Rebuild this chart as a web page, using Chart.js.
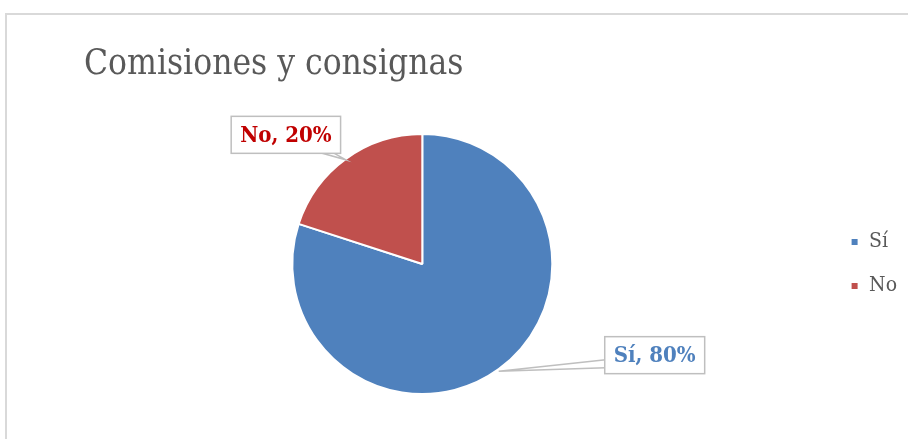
<!DOCTYPE html>
<html>
<head>
<meta charset="utf-8">
<script src="https://cdn.jsdelivr.net/npm/chart.js@4.4.1/dist/chart.umd.min.js"></script>
<style>
    html, body { margin: 0; padding: 0; background: #fff; overflow: hidden; }
    #wrap { position: relative; width: 908px; height: 439px; }
    #frame { position: absolute; left: 5px; top: 13px; width: 1000px; height: 1000px;
             border: 2px solid #d9d9d9; box-sizing: border-box; }
    #chart { position: absolute; left: 0; top: 0; }
</style>
</head>
<body>
<div id="wrap">
    <div id="frame"></div>
    <canvas id="chart" width="908" height="439"></canvas>
</div>
<script>
const categories = ['Sí', 'No'];
const shares = [80, 20];
const sliceColors = ['#4f81bd', '#c0504d'];
const labelColors = ['#4f81bd', '#c00000'];
const chartTitle = 'Comisiones y consignas';

// where each callout box sits relative to the slice edge (mid angle)
const calloutOffsets = [[156, -14], [-60, -24]];
const serif = "'DejaVu Serif Condensed', 'DejaVu Serif', serif";

const titlePlugin = {
    id: 'titleText',
    afterDraw(chart) {
        const ctx = chart.ctx;
        ctx.save();
        ctx.font = `35px ${serif}`;
        ctx.fillStyle = '#595959';
        ctx.textBaseline = 'alphabetic';
        ctx.fillText(chartTitle, 84, 74);
        ctx.restore();
    }
};

const calloutPlugin = {
    id: 'callouts',
    afterDatasetsDraw(chart) {
        const ctx = chart.ctx;
        const arcs = chart.getDatasetMeta(0).data;
        ctx.save();
        ctx.font = `bold 22px ${serif}`;
        ctx.textAlign = 'center';
        ctx.textBaseline = 'middle';
        arcs.forEach((arc, i) => {
            const mid = (arc.startAngle + arc.endAngle) / 2;
            const ax = arc.x + Math.cos(mid) * arc.outerRadius;
            const ay = arc.y + Math.sin(mid) * arc.outerRadius;
            const text = `${categories[i]}, ${shares[i]}%`;
            const w = ctx.measureText(text).width + 18;
            const h = 37;
            const cx = ax + calloutOffsets[i][0];
            const cy = ay + calloutOffsets[i][1];
            const bx = cx - w / 2, by = cy - h / 2;

            // wedge from box to the slice
            ctx.beginPath();
            if (cx > ax) {
                ctx.moveTo(bx + 1, by + h - 14);
                ctx.lineTo(ax, ay + 2);
                ctx.lineTo(bx + 1, by + h - 6);
            } else {
                ctx.moveTo(bx + w - 22, by + h - 1);
                ctx.lineTo(ax, ay + 1);
                ctx.lineTo(bx + w - 8, by + h - 1);
            }
            ctx.fillStyle = '#fff';
            ctx.strokeStyle = '#bfbfbf';
            ctx.lineWidth = 1.5;
            ctx.fill();
            ctx.stroke();

            ctx.fillRect(bx, by, w, h);
            ctx.strokeRect(bx, by, w, h);

            ctx.fillStyle = labelColors[i];
            ctx.fillText(text, cx, cy + 1);
        });
        ctx.restore();
    }
};

const ctx = document.getElementById('chart').getContext('2d');

new Chart(ctx, {
    type: 'pie',
    data: {
        labels: categories,
        datasets: [{
            data: shares,
            backgroundColor: sliceColors,
            borderColor: '#fff',
            borderWidth: 2,
        }]
    },
    options: {
        responsive: false,
        animation: false,
        radius: 130,
        layout: {
            padding: { top: 133, bottom: 44, left: 17, right: 1 }
        },
        plugins: {
            title: { display: false },
            tooltip: { enabled: false },
            legend: {
                position: 'right',
                labels: {
                    boxWidth: 8,
                    boxHeight: 8,
                    padding: 23,
                    color: '#595959',
                    font: { family: serif, size: 21 }
                }
            }
        }
    },
    plugins: [titlePlugin, calloutPlugin]
});
</script>
</body>
</html>
